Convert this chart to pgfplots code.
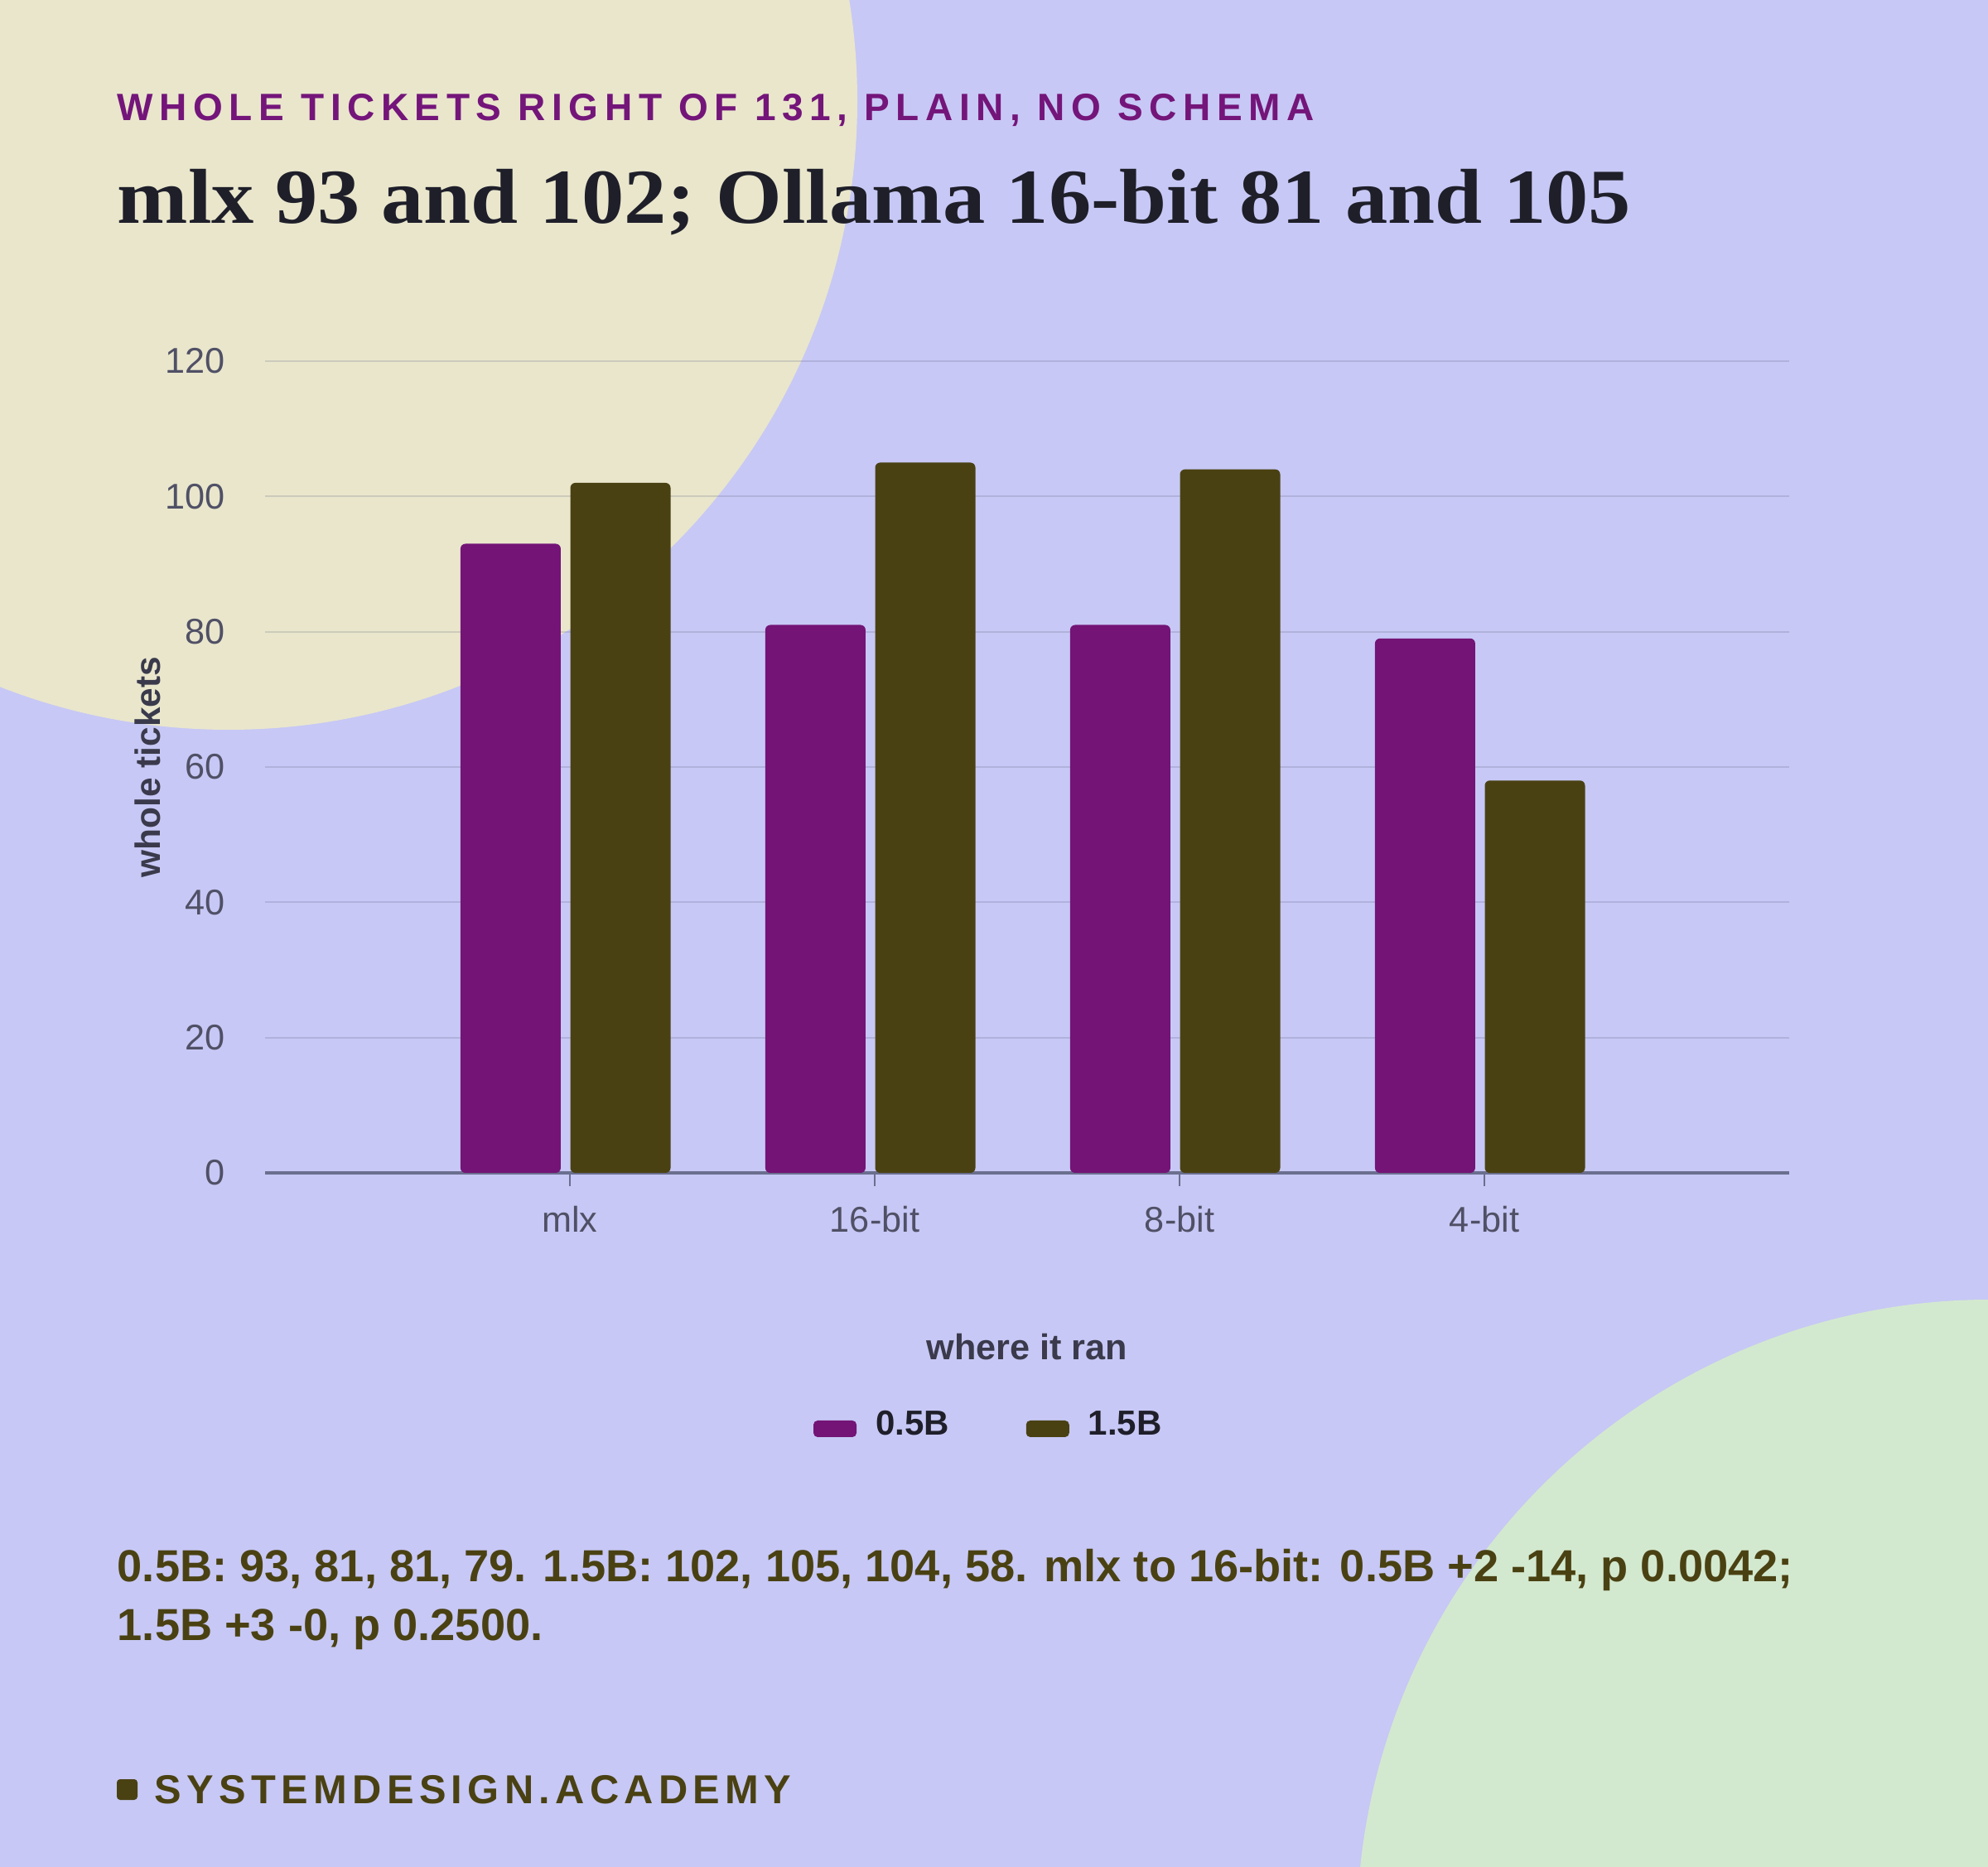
\documentclass[border=0pt]{standalone}
\usepackage{fontspec}
\setmainfont{Liberation Sans}
\newfontfamily\titlefont{Liberation Serif}[FakeStretch=1.09]
\newfontfamily\subfont{Liberation Sans}[LetterSpace=16.4]
\newfontfamily\footfont{Liberation Sans}[LetterSpace=13]
\usepackage{pgfplots}
\pgfplotsset{compat=1.18}

\definecolor{bg}{HTML}{C7C8F5}
\definecolor{cream}{HTML}{E9E6CC}
\definecolor{mint}{HTML}{D3E9CF}
\definecolor{barpurple}{HTML}{731476}
\definecolor{barolive}{HTML}{4A4113}
\definecolor{subpurple}{HTML}{74157A}
\definecolor{titleink}{HTML}{1F1F2A}
\definecolor{tickgray}{HTML}{505066}
\definecolor{labelink}{HTML}{3A3A4C}
\definecolor{axisgray}{HTML}{6B6F8F}
\definecolor{gridink}{HTML}{5B5B78}

\begin{document}
\begin{tikzpicture}
% backdrop, 1px = 0.25pt
\fill[bg] (0,0) rectangle (600pt,-563.5pt);
\begin{scope}
\clip (0,0) rectangle (600pt,-563.5pt);
\fill[cream] (69pt,-30.5pt) circle[radius=189.75pt];
\fill[mint] (600.75pt,-583.5pt) circle[radius=191.25pt];
\end{scope}

\node[anchor=base west, inner sep=0pt, text=subpurple]
  at (35.25pt,-36.4pt) {\subfont\bfseries\fontsize{11.5pt}{13pt}\selectfont WHOLE TICKETS RIGHT OF 131, PLAIN, NO SCHEMA};
\node[anchor=base west, inner sep=0pt, text=titleink]
  at (35.25pt,-67.5pt) {\titlefont\bfseries\fontsize{23.5pt}{28pt}\selectfont mlx 93 and 102; Ollama 16-bit 81 and 105};

\begin{axis}[
    at={(80pt,-354pt)}, anchor=south west,
    scale only axis, width=460pt, height=245pt,
    ybar, bar width=30.25pt,
    xmin=-1, xmax=4, ymin=0, ymax=120,
    xtick={0,1,2,3}, xticklabels={mlx,16-bit,8-bit,4-bit},
    ytick={0,20,...,120},
    axis x line*=bottom, axis y line*=left,
    y axis line style={draw=none},
    x axis line style={draw=axisgray, line width=1pt},
    ytick style={draw=none},
    xtick style={draw=axisgray, line width=0.5pt},
    tick align=outside, major tick length=4pt,
    ymajorgrids, grid style={draw=gridink, draw opacity=0.2, line width=0.5pt},
    /pgf/number format/assume math mode=true,
    tick label style={font=\fontsize{10.8pt}{12pt}\selectfont, text=tickgray},
    yticklabel style={anchor=east, inner sep=0pt, xshift=-7.9pt},
    xticklabel style={anchor=base, inner sep=0pt, yshift=-14pt},
    ylabel={whole tickets},
    ylabel style={at={(axis description cs:-0.0685,0.5)}, anchor=base, inner sep=0pt,
        font=\bfseries\fontsize{10.6pt}{12pt}\selectfont, text=labelink},
    xlabel={where it ran},
    xlabel style={at={(axis description cs:0.5,-0.2296)}, anchor=base, inner sep=0pt,
        font=\bfseries\fontsize{10.8pt}{12pt}\selectfont, text=labelink},
    legend columns=2,
    legend image code/.code={\fill[#1, rounded corners=1.25pt] (0pt,-3.5pt) rectangle (13pt,1.5pt);},
    legend style={at={(axis description cs:0.3598,-0.3112)}, anchor=west,
        draw=none, fill=none, inner sep=0pt, outer sep=0pt,
        nodes={inner sep=0pt},
        font=\bfseries\fontsize{10.5pt}{12pt}\selectfont, text=titleink,
        /tikz/every odd column/.append style={column sep=5.75pt},
        /tikz/every even column/.append style={column sep=23.25pt}},
]
\addplot[fill=barpurple, draw=none, rounded corners=1.5pt, bar shift=-17.9pt]
    coordinates {(0,93) (1,81) (2,81) (3,79)};
\addlegendentry{0.5B}
\addplot[fill=barolive, draw=none, rounded corners=1.5pt, bar shift=15.25pt]
    coordinates {(0,102) (1,105) (2,104) (3,58)};
\addlegendentry{1.5B}
\end{axis}

\node[anchor=base west, inner sep=0pt, text=barolive, font=\bfseries\fontsize{13.55pt}{16pt}\selectfont]
  at (35.25pt,-477.5pt) {0.5B: 93, 81, 81, 79. 1.5B: 102, 105, 104, 58. mlx to 16-bit: 0.5B +2 -14, p 0.0042;};
\node[anchor=base west, inner sep=0pt, text=barolive, font=\bfseries\fontsize{13.55pt}{16pt}\selectfont]
  at (35.25pt,-495pt) {1.5B +3 -0, p 0.2500.};

\fill[barolive, rounded corners=1pt] (35.25pt,-537pt) rectangle (41.5pt,-543.25pt);
\node[anchor=base west, inner sep=0pt, text=barolive]
  at (46.5pt,-544.25pt) {\footfont\bfseries\fontsize{12.2pt}{14pt}\selectfont SYSTEMDESIGN.ACADEMY};

\pgfresetboundingbox
\path[use as bounding box] (0,0) rectangle (600pt,-563.5pt);
\end{tikzpicture}
\end{document}
